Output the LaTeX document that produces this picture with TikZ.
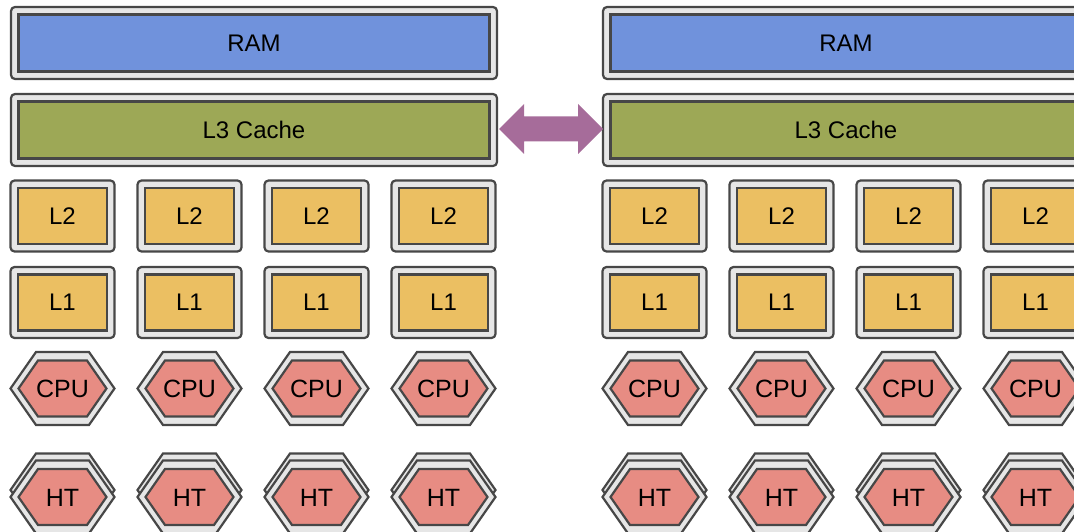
\documentclass[tikz,border=0pt]{standalone}
\usepackage{fontspec}
\setmainfont{Liberation Sans}
\definecolor{ramc}{HTML}{7092DC}
\definecolor{l3c}{HTML}{9DA856}
\definecolor{l2c}{HTML}{EBBF62}
\definecolor{cpuc}{HTML}{E78C83}
\definecolor{shellc}{HTML}{E6E6E6}
\definecolor{linec}{HTML}{474747}
\definecolor{arrowc}{HTML}{A66C9A}
\tikzset{
  shell/.style={draw=linec,fill=shellc,line width=2.2pt,rounded corners=4pt,inner sep=0pt},
  core/.style={draw=linec,line width=2.2pt,inner sep=0pt,font=\fontsize{24}{24}\selectfont},
  bigshell/.style={shell,minimum width=486,minimum height=72},
  bigcore/.style={core,minimum width=471,minimum height=57},
  smallshell/.style={shell,minimum width=104,minimum height=71},
  smallcore/.style={core,fill=l2c,minimum width=89,minimum height=56},
  hexline/.style={draw=linec,line width=2.2pt,line join=miter},
  hexlabel/.style={inner sep=0pt,font=\fontsize{25}{25}\selectfont},
  hexshell/.pic={\draw[hexline,fill=shellc] (-52,0) -- (-26.5,-36.5) -- (26.5,-36.5) -- (52,0) -- (26.5,36.5) -- (-26.5,36.5) -- cycle;},
  hexcore/.pic={\draw[hexline,fill=cpuc] (-44,0) -- (-24.5,-28) -- (24.5,-28) -- (44,0) -- (24.5,28) -- (-24.5,28) -- cycle;}
}
\begin{document}
\begin{tikzpicture}[x=1pt,y=-1pt]
\useasboundingbox (0,0) rectangle (1074,532);
\foreach \g/\ox in {A/0,B/592}{
  \pgfmathsetmacro\bx{\ox+254}
  \node[bigshell] (ram\g-shell) at (\bx,43) {};
  \node[bigcore,fill=ramc] (ram\g) at (\bx,43) {RAM};
  \node[bigshell] (l3\g-shell) at (\bx,130) {};
  \node[bigcore,fill=l3c] (l3\g) at (\bx,130) {L3 Cache};
  \foreach \i in {1,...,4}{
    \pgfmathsetmacro\cx{\ox+62.5+127*(\i-1)}
    \node[smallshell] (l2\g\i-shell) at (\cx,216) {};
    \node[smallcore] (l2\g\i) at (\cx,216) {L2};
    \node[smallshell] (l1\g\i-shell) at (\cx,302.5) {};
    \node[smallcore] (l1\g\i) at (\cx,302.5) {L1};
    \pic at (\cx,388.5) {hexshell};
    \pic at (\cx,388.5) {hexcore};
    \node[hexlabel] (cpu\g\i) at (\cx,389) {CPU};
    \pic at (\cx,490) {hexshell};
    \pic at (\cx,497) {hexshell};
    \pic at (\cx,497) {hexcore};
    \node[hexlabel] (ht\g\i) at (\cx,497.5) {HT};
  }
}
\path (l3A-shell.east) ++(1,-1) coordinate (tipL);
\fill[arrowc] (tipL) -- ++(25,-25) -- ++(0,12.5) -- ++(54,0) -- ++(0,-12.5)
  -- ++(25,25) -- ++(-25,25) -- ++(0,-12.5) -- ++(-54,0) -- ++(0,12.5) -- cycle;
\end{tikzpicture}
\end{document}
